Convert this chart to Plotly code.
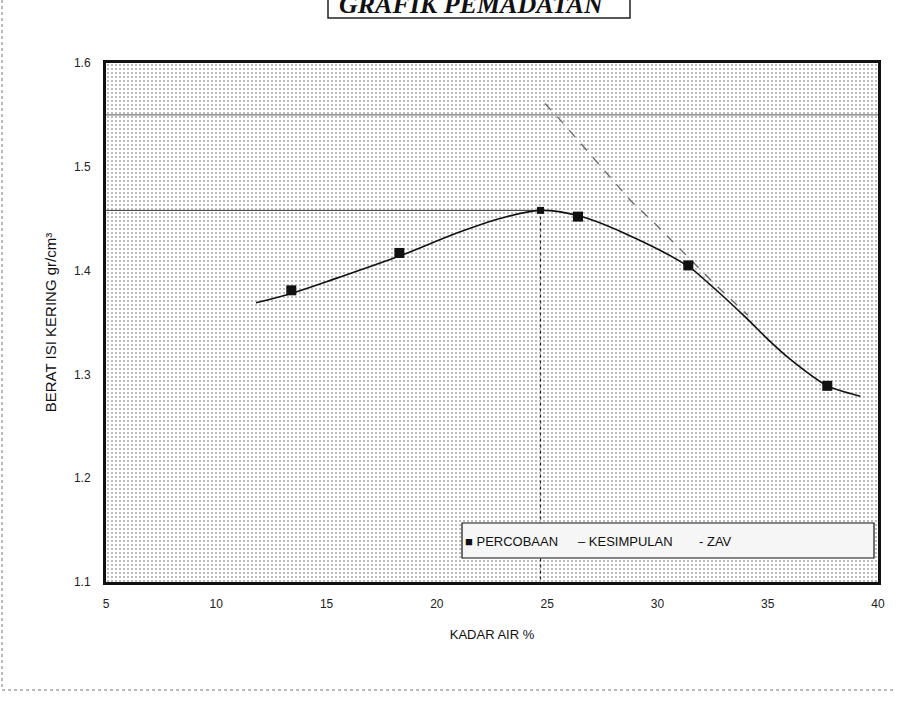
import plotly.graph_objects as go

# ---- data -------------------------------------------------------------
# test points (water content %, dry density gr/cm3)
percobaan_x = [13.4, 18.3, 26.4, 31.4, 37.7]
percobaan_y = [1.381, 1.417, 1.452, 1.405, 1.289]

# fitted compaction curve
kesimpulan_x = [11.8, 13.4, 15.5, 18.3, 21.0, 23.0, 24.7, 26.4, 28.5, 31.4,
                32.2, 34.0, 35.0, 36.0, 37.7, 38.5, 39.2]
kesimpulan_y = [1.369, 1.378, 1.393, 1.414, 1.437, 1.451, 1.458, 1.453, 1.436, 1.404,
                1.390, 1.355, 1.334, 1.315, 1.289, 1.283, 1.279]

# zero air voids line
zav_x = [24.9, 25.6, 27.2, 28.8, 29.9, 30.8, 32.6, 34.1]
zav_y = [1.561, 1.545, 1.506, 1.467, 1.445, 1.426, 1.387, 1.357]

# optimum moisture content / maximum dry density
omc = 24.7
mdd = 1.458

x_range = [5, 40]
y_range = [1.1, 1.6]
x_ticks = [5, 10, 15, 20, 25, 30, 35, 40]
y_ticks = [1.1, 1.2, 1.3, 1.4, 1.5, 1.6]
ref_line_y = 1.55

FONT = "Liberation Sans, Arial, sans-serif"

fig = go.Figure()

# stippled plot background
fig.add_trace(go.Scatter(
    x=[x_range[0], x_range[1], x_range[1], x_range[0], x_range[0]],
    y=[y_range[0], y_range[0], y_range[1], y_range[1], y_range[0]],
    mode="none", fill="toself", fillcolor="rgba(0,0,0,0)",
    fillpattern=dict(shape=".", size=4, solidity=0.22, fgcolor="#555555", bgcolor="#ffffff"),
    hoverinfo="skip", showlegend=False,
))

# reference lines for MDD / OMC
fig.add_trace(go.Scatter(
    x=[x_range[0], omc], y=[mdd, mdd], mode="lines",
    line=dict(color="#333333", width=1), hoverinfo="skip", showlegend=False,
))
fig.add_trace(go.Scatter(
    x=[omc, omc], y=[mdd, y_range[0]], mode="lines",
    line=dict(color="#222222", width=1.2, dash="dot"), hoverinfo="skip", showlegend=False,
))
fig.add_trace(go.Scatter(
    x=x_range, y=[ref_line_y, ref_line_y], mode="lines",
    line=dict(color="#555555", width=1), hoverinfo="skip", showlegend=False,
))

# ZAV
fig.add_trace(go.Scatter(
    x=zav_x, y=zav_y, mode="lines", name="ZAV",
    line=dict(color="#666666", width=1.3, dash="dash"), showlegend=False,
))

# KESIMPULAN curve
fig.add_trace(go.Scatter(
    x=kesimpulan_x, y=kesimpulan_y, mode="lines", name="KESIMPULAN",
    line=dict(color="#111111", width=1.6, shape="spline", smoothing=1.0), showlegend=False,
))

# PERCOBAAN points
fig.add_trace(go.Scatter(
    x=percobaan_x, y=percobaan_y, mode="markers", name="PERCOBAAN",
    marker=dict(symbol="square", size=10, color="#111111"), showlegend=False,
))
fig.add_trace(go.Scatter(
    x=[omc], y=[mdd], mode="markers",
    marker=dict(symbol="square", size=7, color="#111111"), hoverinfo="skip", showlegend=False,
))

# plot area in pixels
L, R, T, B = 106, 878, 63, 582
W, H = 901, 703


def px(xp):
    return (xp - L) / (R - L)


def py(yp):
    return (B - yp) / (B - T)


shapes = [
    # legend box
    dict(type="rect", xref="paper", yref="paper", x0=px(462), x1=px(874), y0=py(558), y1=py(523),
         line=dict(color="#111111", width=1.2), fillcolor="#f6f6f6", layer="above"),
    # title box
    dict(type="rect", xref="paper", yref="paper", x0=px(328), x1=px(630), y0=py(18), y1=py(-10),
         line=dict(color="#222222", width=1.5), fillcolor="white"),
    # page frame
    dict(type="line", xref="paper", yref="paper", x0=px(2), x1=px(2), y0=py(0), y1=py(690),
         line=dict(color="#777777", width=1, dash="dot")),
    dict(type="line", xref="paper", yref="paper", x0=px(2), x1=px(895), y0=py(690), y1=py(690),
         line=dict(color="#777777", width=1, dash="dot")),
]

LEG_FONT = dict(family=FONT, size=13, color="#111")
annotations = [
    dict(xref="paper", yref="paper", x=px(463), y=py(541), xanchor="left", yanchor="middle",
         text="■ PERCOBAAN", showarrow=False, font=LEG_FONT),
    dict(xref="paper", yref="paper", x=px(576), y=py(541), xanchor="left", yanchor="middle",
         text="– KESIMPULAN", showarrow=False, font=LEG_FONT),
    dict(xref="paper", yref="paper", x=px(697), y=py(541), xanchor="left", yanchor="middle",
         text="- ZAV", showarrow=False, font=LEG_FONT),
    dict(xref="paper", yref="paper", x=px(471), y=py(21), xanchor="center", yanchor="bottom",
         text="<b><i>GRAFIK PEMADATAN</i></b>", showarrow=False,
         font=dict(family="Liberation Serif, serif", size=26, color="#111")),
]

fig.update_layout(
    width=W, height=H,
    margin=dict(l=L, r=W - R, t=T, b=H - B, autoexpand=False),
    paper_bgcolor="white", plot_bgcolor="white",
    shapes=shapes, annotations=annotations,
    font=dict(family=FONT, size=12, color="#222"),
)

fig.update_xaxes(
    range=x_range, tickvals=x_ticks, ticks="", ticklabelstandoff=9,
    showline=True, linewidth=3, linecolor="#111", mirror=True,
    showgrid=True, gridcolor="#444", griddash="dot", gridwidth=1,
    minor=dict(dtick=2.5, showgrid=True, gridcolor="#444", griddash="dot", gridwidth=1),
    zeroline=False,
    title=dict(text="KADAR AIR %", font=dict(family=FONT, size=13, color="#111"), standoff=20),
    tickfont=dict(size=12, color="#222"),
)
fig.update_yaxes(
    range=y_range, tickvals=y_ticks, tickformat=".1f", ticks="", ticklabelstandoff=10,
    showline=True, linewidth=3, linecolor="#111", mirror=True,
    showgrid=True, gridcolor="#444", griddash="dot", gridwidth=1,
    minor=dict(dtick=0.05, showgrid=True, gridcolor="#444", griddash="dot", gridwidth=1),
    zeroline=False,
    title=dict(text="BERAT ISI KERING gr/cm³", font=dict(family=FONT, size=15, color="#111"), standoff=14),
    tickfont=dict(size=12, color="#222"),
)

fig.write_html("out.html")
